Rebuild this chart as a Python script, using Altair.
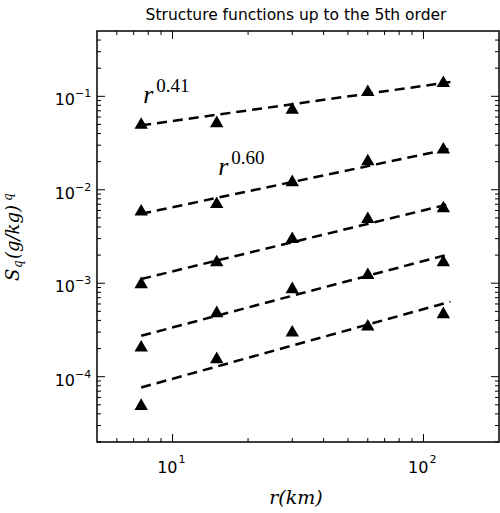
import altair as alt
import pandas as pd

# ---- data ----
r_km = [7.5, 15, 30, 60, 120]
S1 = [0.0518, 0.0540, 0.0750, 0.116, 0.145]
S2 = [0.00611, 0.00736, 0.0126, 0.0211, 0.0282]
S3 = [0.00102, 0.00175, 0.00310, 0.00508, 0.00662]
S4 = [2.14e-4, 5.0e-4, 9.04e-4, 1.28e-3, 1.75e-3]
S5 = [5.08e-5, 1.61e-4, 3.10e-4, 3.60e-4, 4.88e-4]

fit_r = [7.5, 128]
fit1 = [0.0489, 0.142]
fit2 = [0.00553, 0.0275]
fit3 = [0.00111, 0.00708]
fit4 = [2.74e-4, 2.06e-3]
fit5 = [7.66e-5, 6.35e-4]

ann_r = [7.65, 15.2]
ann_S = [0.0841, 0.01422]
ann_exp = ["0.41", "0.60"]

x_major = [10, 100]
x_major_exp = ["1", "2"]
x_minor = [6, 7, 8, 9, 20, 30, 40, 50, 60, 70, 80, 90]
y_major = [1e-1, 1e-2, 1e-3, 1e-4]
y_major_exp = ["\u22121", "\u22122", "\u22123", "\u22124"]
y_minor = [2e-5, 3e-5, 4e-5, 5e-5, 6e-5, 7e-5, 8e-5, 9e-5,
           2e-4, 3e-4, 4e-4, 5e-4, 6e-4, 7e-4, 8e-4, 9e-4,
           2e-3, 3e-3, 4e-3, 5e-3, 6e-3, 7e-3, 8e-3, 9e-3,
           2e-2, 3e-2, 4e-2, 5e-2, 6e-2, 7e-2, 8e-2, 9e-2,
           2e-1, 3e-1, 4e-1]

W, H = 402, 411

xs = alt.Scale(type="log", domain=[5, 200])
ys = alt.Scale(type="log", domain=[2e-5, 0.5])

series = [S1, S2, S3, S4, S5]
fits = [fit1, fit2, fit3, fit4, fit5]
pts = pd.DataFrame([{"r": r, "S": s, "q": i + 1} for i, ser in enumerate(series) for r, s in zip(r_km, ser)])
lns = pd.DataFrame([{"r": r, "S": s, "q": i + 1} for i, ser in enumerate(fits) for r, s in zip(fit_r, ser)])

X = lambda f: alt.X(f, type="quantitative", scale=xs, axis=None)
Y = lambda f: alt.Y(f, type="quantitative", scale=ys, axis=None)

lines = alt.Chart(lns).mark_line(color="black", strokeDash=[10, 6], strokeWidth=2.5).encode(
    x=X("r"), y=Y("S"), detail="q:N")
points = alt.Chart(pts).mark_point(shape="triangle-up", filled=True, color="black", size=180, opacity=1).encode(
    x=X("r"), y=Y("S"))

layers = [lines, points]

# inward ticks on all four sides
def yticks(vals, length):
    d = pd.DataFrame({"v": vals})
    left = alt.Chart(d).mark_rule(color="black", strokeWidth=1).encode(y=Y("v"), x=alt.value(0), x2=alt.value(length))
    right = alt.Chart(d).mark_rule(color="black", strokeWidth=1).encode(y=Y("v"), x=alt.value(W - length), x2=alt.value(W))
    return [left, right]

def xticks(vals, length):
    d = pd.DataFrame({"v": vals})
    bottom = alt.Chart(d).mark_rule(color="black", strokeWidth=1).encode(x=X("v"), y=alt.value(H - length), y2=alt.value(H))
    top = alt.Chart(d).mark_rule(color="black", strokeWidth=1).encode(x=X("v"), y=alt.value(0), y2=alt.value(length))
    return [bottom, top]

layers += yticks(y_major, 8) + yticks(y_minor, 4) + xticks(x_major, 8) + xticks(x_minor, 4)

# tick labels 10^n
ylab = pd.DataFrame({"v": y_major, "e": y_major_exp})
layers.append(alt.Chart(ylab).mark_text(font="DejaVu Sans", fontSize=16, align="right", baseline="alphabetic",
                                        dx=-22, dy=9, color="black").encode(y=Y("v"), x=alt.value(0), text=alt.value("10")))
layers.append(alt.Chart(ylab).mark_text(font="DejaVu Sans", fontSize=11, align="left", baseline="alphabetic",
                                        dx=-22, dy=1, color="black").encode(y=Y("v"), x=alt.value(0), text="e:N"))
xlab = pd.DataFrame({"v": x_major, "e": x_major_exp})
layers.append(alt.Chart(xlab).mark_text(font="DejaVu Sans", fontSize=16, align="right", baseline="alphabetic",
                                        dx=5, dy=31, color="black").encode(x=X("v"), y=alt.value(H), text=alt.value("10")))
layers.append(alt.Chart(xlab).mark_text(font="DejaVu Sans", fontSize=11, align="left", baseline="alphabetic",
                                        dx=6, dy=21, color="black").encode(x=X("v"), y=alt.value(H), text="e:N"))

# annotations r^exponent
ann = pd.DataFrame({"r": ann_r, "S": ann_S, "e": ann_exp})
layers.append(alt.Chart(ann).mark_text(font="Liberation Serif", fontStyle="italic", fontSize=26, align="left",
                                       baseline="alphabetic", color="black").encode(x=X("r"), y=Y("S"), text=alt.value("r")))
layers.append(alt.Chart(ann).mark_text(font="Liberation Serif", fontSize=19, align="left", baseline="alphabetic",
                                       dx=13, dy=-11, color="black").encode(x=X("r"), y=Y("S"), text="e:N"))

one = pd.DataFrame({"k": [0]})

def label(txt, x, y, **kw):
    return alt.Chart(one).mark_text(color="black", baseline="alphabetic", **kw).encode(
        x=alt.value(x), y=alt.value(y), text=alt.value(txt))

# title
layers.append(label("Structure functions up to the 5th order", 199, -11, font="DejaVu Sans", fontSize=15.5, align="center"))
# x axis title
layers.append(label("r(km)", 199, 473, font="DejaVu Serif", fontStyle="italic", fontSize=19, align="center"))
# y axis title S_q(g/kg)^q
layers.append(label("S", -78, 250, font="DejaVu Serif", fontStyle="italic", fontSize=18, align="left", angle=270))
layers.append(label("q", -75, 237, font="DejaVu Serif", fontStyle="italic", fontSize=12, align="left", angle=270))
layers.append(label("(g/kg)", -78, 228, font="DejaVu Serif", fontStyle="italic", fontSize=18, align="left", angle=270))
layers.append(label("q", -85, 170, font="DejaVu Serif", fontStyle="italic", fontSize=12, align="left", angle=270))

chart = alt.layer(*layers).properties(
    width=W, height=H,
    autosize=alt.AutoSizeParams(type="none"),
    padding={"left": 97, "top": 31, "right": 1, "bottom": 71},
    background="white",
).configure_view(stroke="black", strokeWidth=1.5)

chart.save("out.html", embed_options={"renderer": "svg", "actions": False})
